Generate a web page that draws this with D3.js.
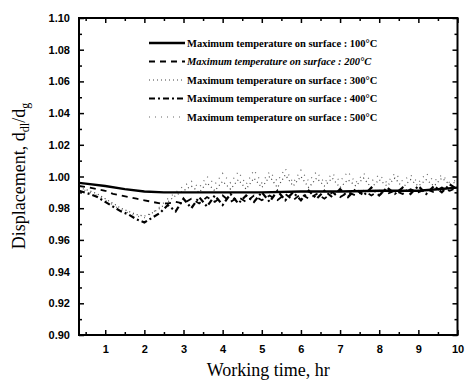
<!DOCTYPE html>
<html><head><meta charset="utf-8">
<script src="https://cdn.jsdelivr.net/npm/d3@7"></script>
<style>body{margin:0;background:#fff}svg{display:block}</style>
</head><body>
<svg id="c" width="467" height="381"></svg>
<script>
const xTicks = [1,2,3,4,5,6,7,8,9,10];
const yTicks = [0.90,0.92,0.94,0.96,0.98,1.00,1.02,1.04,1.06,1.08,1.10];
const yTickLabels = ["0.90","0.92","0.94","0.96","0.98","1.00","1.02","1.04","1.06","1.08","1.10"];
const seriesNames = ["Maximum temperature on surface : 100\u00B0C","Maximum temperature on surface : 200\u00B0C","Maximum temperature on surface : 300\u00B0C","Maximum temperature on surface : 400\u00B0C","Maximum temperature on surface : 500\u00B0C"];

const time100 = [0.33,0.5,1,1.5,2,2.5,3,4,5,6,7,8,9,9.5,10];
const val100  = [0.996,0.9955,0.994,0.992,0.9905,0.990,0.990,0.990,0.990,0.9905,0.9905,0.991,0.991,0.992,0.993];

const timeFine = [0.33,0.6,0.8,1.0,1.2,1.4,1.6,1.8,2.0,2.2,2.4,2.6,2.8,3.0,3.2,3.4,3.6,3.8,4.0,4.2,4.4,4.6,4.8,5.0,5.2,5.4,5.6,5.8,6.0,6.2,6.4,6.6,6.8,7.0,7.2,7.4,7.6,7.8,8.0,8.2,8.4,8.6,8.8,9.0,9.2,9.4,9.6,9.8,10.0];
const val200 = [0.994,0.993,0.992,0.991,0.989,0.988,0.987,0.986,0.985,0.984,0.983,0.983,0.984,0.983,0.986,0.983,0.987,0.984,0.988,0.984,0.987,0.984,0.988,0.985,0.988,0.985,0.989,0.985,0.989,0.986,0.989,0.986,0.990,0.987,0.990,0.988,0.991,0.988,0.991,0.989,0.991,0.989,0.992,0.990,0.992,0.990,0.993,0.991,0.993];
const val300 = [0.993,0.991,0.989,0.986,0.983,0.980,0.978,0.976,0.975,0.977,0.980,0.984,0.988,0.991,0.994,0.990,0.996,0.991,0.997,0.992,0.998,0.992,0.999,0.993,1.000,0.993,1.001,0.994,1.000,0.993,0.999,0.994,0.999,0.993,0.998,0.994,0.999,0.993,0.998,0.994,0.999,0.993,0.998,0.994,0.998,0.994,0.999,0.995,0.997];
const val400 = [0.991,0.989,0.987,0.984,0.981,0.978,0.976,0.973,0.971,0.974,0.977,0.982,0.978,0.986,0.980,0.987,0.981,0.988,0.982,0.989,0.983,0.988,0.984,0.990,0.984,0.991,0.985,0.990,0.985,0.991,0.986,0.991,0.987,0.992,0.987,0.992,0.988,0.993,0.988,0.993,0.989,0.993,0.989,0.994,0.989,0.994,0.990,0.995,0.992];
const val500 = [0.993,0.990,0.988,0.985,0.982,0.979,0.977,0.975,0.974,0.977,0.981,0.986,0.990,0.994,0.997,0.993,1.000,0.995,1.002,0.996,1.003,0.995,1.004,0.996,1.003,0.997,1.005,0.996,1.004,0.997,1.003,0.996,1.002,0.997,1.003,0.996,1.002,0.997,1.001,0.996,1.002,0.997,1.001,0.996,1.002,0.997,1.001,0.996,0.998];

const svg = d3.select("#c");
const L = 79, R = 457.5, T = 18, B = 335;
const x = d3.scaleLinear().domain([0.33,10]).range([L,R]);
const y = d3.scaleLinear().domain([0.90,1.10]).range([B,T]);

svg.append("rect").attr("x",L).attr("y",T).attr("width",R-L).attr("height",B-T)
  .attr("fill","none").attr("stroke","#000").attr("stroke-width",2);

const xMinor = [0.5,1.5,2.5,3.5,4.5,5.5,6.5,7.5,8.5,9.5];
const yMinor = [0.91,0.93,0.95,0.97,0.99,1.01,1.03,1.05,1.07,1.09];

const fmtY = d => yTickLabels[yTicks.findIndex(v=>Math.abs(v-d)<1e-9)];
const gb = svg.append("g").attr("transform",`translate(0,${B})`)
  .call(d3.axisBottom(x).tickValues(xTicks).tickSizeInner(-5).tickSizeOuter(0).tickPadding(10));
const gbm = svg.append("g").attr("transform",`translate(0,${B})`)
  .call(d3.axisBottom(x).tickValues(xMinor).tickSizeInner(-3).tickSizeOuter(0).tickFormat(""));
const gt = svg.append("g").attr("transform",`translate(0,${T})`)
  .call(d3.axisTop(x).tickValues(xTicks).tickSizeInner(-5).tickSizeOuter(0).tickFormat(""));
const gtm = svg.append("g").attr("transform",`translate(0,${T})`)
  .call(d3.axisTop(x).tickValues(xMinor).tickSizeInner(-3).tickSizeOuter(0).tickFormat(""));
const gl = svg.append("g").attr("transform",`translate(${L},0)`)
  .call(d3.axisLeft(y).tickValues(yTicks).tickSizeInner(-5).tickSizeOuter(0).tickPadding(9).tickFormat(fmtY));
const glm = svg.append("g").attr("transform",`translate(${L},0)`)
  .call(d3.axisLeft(y).tickValues(yMinor).tickSizeInner(-3).tickSizeOuter(0).tickFormat(""));
const gr = svg.append("g").attr("transform",`translate(${R},0)`)
  .call(d3.axisRight(y).tickValues(yTicks).tickSizeInner(-5).tickSizeOuter(0).tickFormat(""));
const grm = svg.append("g").attr("transform",`translate(${R},0)`)
  .call(d3.axisRight(y).tickValues(yMinor).tickSizeInner(-3).tickSizeOuter(0).tickFormat(""));
[gb,gbm,gt,gtm,gl,glm,gr,grm].forEach(g=>{
  g.select(".domain").remove();
  g.selectAll("line").attr("stroke","#000").attr("stroke-width",1.5);
  g.selectAll("text").attr("fill","#000").style("font-family","Liberation Sans, Arial, sans-serif")
   .style("font-weight","bold").style("font-size","11px");
});

svg.append("text").attr("x",(L+R)/2).attr("y",376).attr("text-anchor","middle")
  .style("font-family","Liberation Serif, Times New Roman, serif").style("font-size","18px")
  .text("Working time, hr");
const yl = svg.append("text").attr("transform","translate(25,176) rotate(-90)").attr("text-anchor","middle")
  .style("font-family","Liberation Serif, Times New Roman, serif").style("font-size","18px");
yl.append("tspan").text("Displacement, d");
yl.append("tspan").attr("dy",4).style("font-size","12px").text("dl");
yl.append("tspan").attr("dy",-4).text("/d");
yl.append("tspan").attr("dy",4).style("font-size","12px").text("g");

const styles = [
  {w:2.4, dash:null, op:1},
  {w:1.8, dash:"6,5", op:1},
  {w:1.2, dash:"1,3", op:0.75},
  {w:2.2, dash:"6,3,2,3", op:1},
  {w:1.2, dash:"1,5", op:0.6}
];
const line = d3.line().x(d=>x(d[0])).y(d=>y(d[1]));
const data = [
  time100.map((t,i)=>[t,val100[i]]),
  timeFine.map((t,i)=>[t,val200[i]]),
  timeFine.map((t,i)=>[t,val300[i]]),
  timeFine.map((t,i)=>[t,val400[i]]),
  timeFine.map((t,i)=>[t,val500[i]])
];
const order = [4,2,1,3,0];
order.forEach(k=>{
  svg.append("path").datum(data[k]).attr("d",line).attr("fill","none")
    .attr("stroke","#000").attr("stroke-width",styles[k].w).attr("stroke-opacity",styles[k].op)
    .attr("stroke-dasharray",styles[k].dash);
});

const lg = svg.append("g");
seriesNames.forEach((n,i)=>{
  const yy = 43 + i*18.5;
  lg.append("line").attr("x1",149).attr("x2",185).attr("y1",yy).attr("y2",yy)
    .attr("stroke","#000").attr("stroke-width",styles[i].w).attr("stroke-opacity",styles[i].op)
    .attr("stroke-dasharray",styles[i].dash);
  lg.append("text").attr("x",187).attr("y",yy+3.5)
    .style("font-family","Liberation Serif, Times New Roman, serif").style("font-size","10.5px")
    .style("font-weight","bold").style("font-style",i===1?"italic":"normal").text(n);
});
</script>
</body></html>
